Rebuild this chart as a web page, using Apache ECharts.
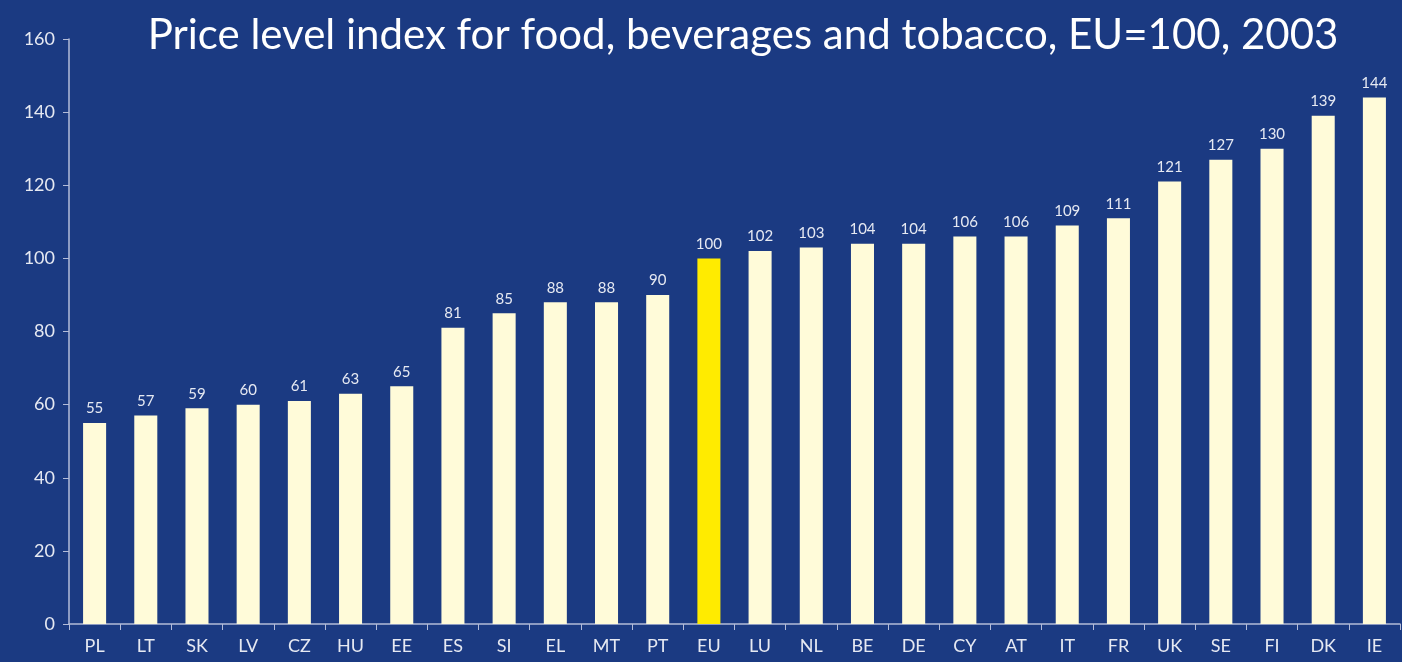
<!DOCTYPE html>
<html><head><meta charset="utf-8">
<script src="https://cdn.jsdelivr.net/npm/echarts@6/dist/echarts.min.js"></script>
<style>html,body{margin:0;padding:0;background:#1B3A82;}#c{width:1402px;height:662px;}</style>
</head><body><div id="c"></div>
<script>
const categories = ["PL","LT","SK","LV","CZ","HU","EE","ES","SI","EL","MT","PT","EU","LU","NL","BE","DE","CY","AT","IT","FR","UK","SE","FI","DK","IE"];
const values = [55,57,59,60,61,63,65,81,85,88,88,90,100,102,103,104,104,106,106,109,111,121,127,130,139,144];
const highlight = "EU";
const titleText = "Price level index for food, beverages and tobacco, EU=100, 2003";

const chart = echarts.init(document.getElementById('c'), null, {renderer:'canvas'});
const fontFam = "Lato, 'Open Sans', sans-serif";
chart.setOption({
  backgroundColor: '#1B3A82',
  animation: false,
  title: {
    text: titleText, left: 738, top: 9, textAlign: 'center',
    textStyle: {color: '#FFFFFF', fontSize: 42, fontWeight: 'normal', fontFamily: fontFam}
  },
  grid: {left: 69, right: 2, top: 39, bottom: 38, containLabel: false},
  xAxis: {
    type: 'category', data: categories,
    axisLine: {lineStyle: {color: '#B4BCD8', width: 1.5}},
    axisTick: {show: true, length: 6, lineStyle: {color: '#B4BCD8'}},
    axisLabel: {color: '#E6E9F2', fontSize: 18, fontFamily: fontFam, margin: 13}
  },
  yAxis: {
    type: 'value', min: 0, max: 160, interval: 20,
    splitLine: {show: false},
    axisLine: {show: true, lineStyle: {color: '#B4BCD8', width: 1.5}},
    axisTick: {show: true, length: 6, lineStyle: {color: '#B4BCD8'}},
    axisLabel: {color: '#E6E9F2', fontSize: 18, fontFamily: fontFam, margin: 14}
  },
  series: [{
    type: 'bar', barWidth: '45%',
    data: categories.map((c, i) => ({
      value: values[i],
      itemStyle: {color: c === highlight ? '#FFEB00' : '#FFFBD9'}
    })),
    label: {show: true, position: 'top', distance: 7, color: '#E6E9F2', fontSize: 15, fontFamily: fontFam}
  }]
});
</script></body></html>
